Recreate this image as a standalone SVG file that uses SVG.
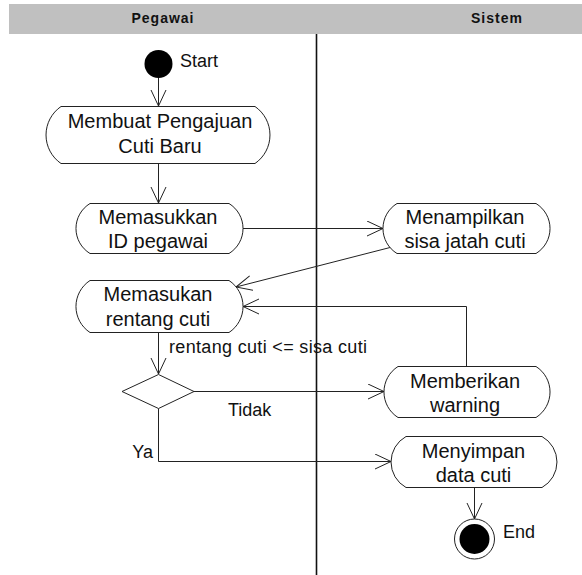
<svg xmlns="http://www.w3.org/2000/svg" width="582" height="575" viewBox="0 0 582 575">
<defs>
<style>
.hdr{font-family:"Liberation Sans",Arial,sans-serif;font-size:14px;font-weight:bold;fill:#111;letter-spacing:1px;text-anchor:middle}
.node path{fill:#fff;stroke:#222;stroke-width:1}
.node text{font-family:"Liberation Sans",Arial,sans-serif;font-size:20px;fill:#111;text-anchor:middle}
.lbl{font-family:"Liberation Sans",Arial,sans-serif;font-size:18px;fill:#111}
.conn{fill:none;stroke:#222;stroke-width:1;marker-end:url(#arr)}
</style>
<marker id="arr" markerUnits="userSpaceOnUse" markerWidth="20" markerHeight="20" refX="16" refY="8" orient="auto">
<path d="M0,0.5 L16,8 L0,15.5" fill="none" stroke="#222" stroke-width="1"/>
</marker>
</defs>
<rect x="9" y="4" width="573" height="30" fill="#c0c0c0"/>
<text class="hdr" x="163" y="23">Pegawai</text>
<text class="hdr" x="497" y="23">Sistem</text>
<line x1="316.5" y1="34" x2="316.5" y2="575" stroke="#111" stroke-width="1.6"/>

<g id="connectors">
<path class="conn" d="M158.5,78 L158.5,106"/>
<path class="conn" d="M158.5,163 L158.5,203"/>
<path class="conn" d="M243,228.5 L383,228.5"/>
<path class="conn" d="M392,247 L236,287"/>
<path class="conn" d="M158.5,332 L158.5,374"/>
<path class="conn" d="M194,391.5 L384,391.5"/>
<path class="conn" d="M466.5,366 L466.5,306.5 L243,306.5"/>
<path class="conn" d="M158.5,408.5 L158.5,461.5 L391,461.5"/>
<path class="conn" d="M474.5,487 L474.5,519"/>
<text class="lbl" x="169" y="353" textLength="198" lengthAdjust="spacing">rentang cuti &lt;= sisa cuti</text>
<text class="lbl" x="228" y="416">Tidak</text>
<text class="lbl" x="153" y="458" text-anchor="end">Ya</text>
</g>

<g id="start">
<circle cx="158.5" cy="64" r="14" fill="#000"/>
<text class="lbl" x="180" y="67">Start</text>
</g>

<g id="membuat" class="node">
<path d="M61,106.5 L255,106.5 A34.6,34.6 0 0 1 255,163.5 L61,163.5 A34.6,34.6 0 0 1 61,106.5 Z"/>
<text x="160" y="127.5">Membuat Pengajuan</text>
<text x="160" y="152.5">Cuti Baru</text>
</g>

<g id="memasukkan" class="node">
<path d="M90,203.5 L229,203.5 A29.3,29.3 0 0 1 229,253.5 L90,253.5 A29.3,29.3 0 0 1 90,203.5 Z"/>
<text x="158" y="223.5">Memasukkan</text>
<text x="158" y="248">ID pegawai</text>
</g>

<g id="menampilkan" class="node">
<path d="M397,203.5 L536,203.5 A29.3,29.3 0 0 1 536,253.5 L397,253.5 A29.3,29.3 0 0 1 397,203.5 Z"/>
<text x="465" y="223.5">Menampilkan</text>
<text x="465" y="248">sisa jatah cuti</text>
</g>

<g id="memasukan-rentang" class="node">
<path d="M90,280.5 L229,280.5 A31.1,31.1 0 0 1 229,332.5 L90,332.5 A31.1,31.1 0 0 1 90,280.5 Z"/>
<text x="158" y="300.5">Memasukan</text>
<text x="158" y="325.5">rentang cuti</text>
</g>

<g id="decision">
<path d="M158.5,374.5 L194,391.5 L158.5,408.5 L122,391.5 Z" fill="#fff" stroke="#222" stroke-width="1"/>
</g>

<g id="memberikan" class="node">
<path d="M398,366.5 L536,366.5 A30.2,30.2 0 0 1 536,417.5 L398,417.5 A30.2,30.2 0 0 1 398,366.5 Z"/>
<text x="465" y="387.5">Memberikan</text>
<text x="465" y="411.5">warning</text>
</g>

<g id="menyimpan" class="node">
<path d="M406,436.5 L542,436.5 A29.2,29.2 0 0 1 542,487.5 L406,487.5 A29.2,29.2 0 0 1 406,436.5 Z"/>
<text x="473.5" y="457.5">Menyimpan</text>
<text x="473.5" y="482">data cuti</text>
</g>

<g id="end">
<circle cx="474.5" cy="539" r="20" fill="#fff" stroke="#222" stroke-width="1"/>
<circle cx="474.5" cy="539" r="15" fill="#000"/>
<text class="lbl" x="503" y="538">End</text>
</g>
</svg>
